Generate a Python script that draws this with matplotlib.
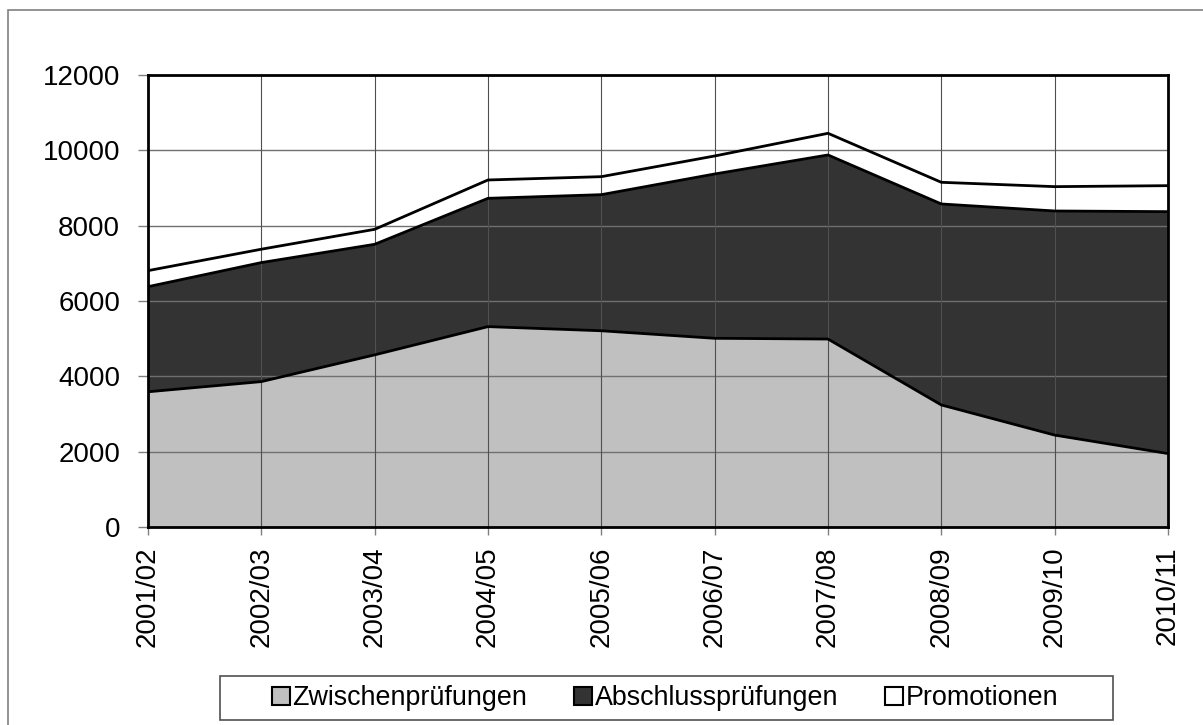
import numpy as np
import matplotlib.pyplot as plt
from matplotlib.patches import Rectangle

plt.rcParams['font.family'] = ['Liberation Sans', 'DejaVu Sans']

years = ['2001/02', '2002/03', '2003/04', '2004/05', '2005/06',
         '2006/07', '2007/08', '2008/09', '2009/10', '2010/11']
zwischen = [3590, 3860, 4570, 5320, 5210, 5010, 4990, 3240, 2440, 1950]
abschluss = [2790, 3160, 2935, 3406, 3613, 4362, 4887, 5336, 5950, 6422]
promotionen = [426, 355, 398, 487, 478, 478, 575, 575, 646, 690]

labels = ['Zwischenprüfungen', 'Abschlussprüfungen', 'Promotionen']
colors = ['#c0c0c0', '#333333', '#ffffff']

fig = plt.figure(figsize=(12.03, 7.25), dpi=100)
ax = fig.add_axes([148/1203, 1 - 527/725, (1168 - 148)/1203, (527 - 75)/725])

# outer frame of the chart object (cut at right and bottom)
fig.patches.append(Rectangle((8/1203, -0.1), 1.2, 1 - 10/725 + 0.1,
                             transform=fig.transFigure, fill=False,
                             edgecolor='#808080', linewidth=1.2))
# legend box, wider than the entries like in the original
fig.patches.append(Rectangle((220/1203, 1 - 720/725), (1113 - 220)/1203, 44/725,
                             transform=fig.transFigure, fill=False,
                             edgecolor='#505050', linewidth=1.2))

x = np.arange(len(years))
stack = np.vstack([zwischen, abschluss, promotionen])
cum = np.cumsum(stack, axis=0)
bottom = np.zeros(len(years))
for i in range(3):
    top = cum[i]
    ax.fill_between(x, bottom, top, facecolor=colors[i], edgecolor='none',
                    zorder=1, label=labels[i])
    ax.plot(x, top, color='black', linewidth=2, zorder=3)
    bottom = top

ax.set_xlim(0, len(years) - 1)
ax.set_ylim(0, 12000)
ax.set_yticks(np.arange(0, 12001, 2000))
ax.set_xticks(x)
ax.set_xticklabels(years, rotation=90)
ax.tick_params(axis='both', labelsize=20, direction='out', width=1,
               color='#808080')
ax.tick_params(axis='y', length=7, pad=13)
ax.tick_params(axis='x', length=6, pad=8)

for y in np.arange(2000, 12000, 2000):
    ax.axhline(y, color='#707070', linewidth=1, zorder=2)
for xi in x[1:-1]:
    ax.axvline(xi, color='#505050', linewidth=0.8, zorder=2)

for s in ax.spines.values():
    s.set_linewidth(2)
    s.set_color('black')
    s.set_zorder(4)

leg_handles = [Rectangle((0, 0), 1, 1, facecolor=c, edgecolor='black', linewidth=1.5)
               for c in colors]
leg = fig.legend(leg_handles, labels, loc='center',
                 bbox_to_anchor=((273 + 1057) / 2 / 1203, 1 - 698/725),
                 ncol=3, fontsize=19.4, frameon=False,
                 handlelength=0.65, handleheight=0.65,
                 handletextpad=0.1, columnspacing=1.75, borderpad=0.35,
                 borderaxespad=0)

fig.savefig('out.png', dpi=100)
